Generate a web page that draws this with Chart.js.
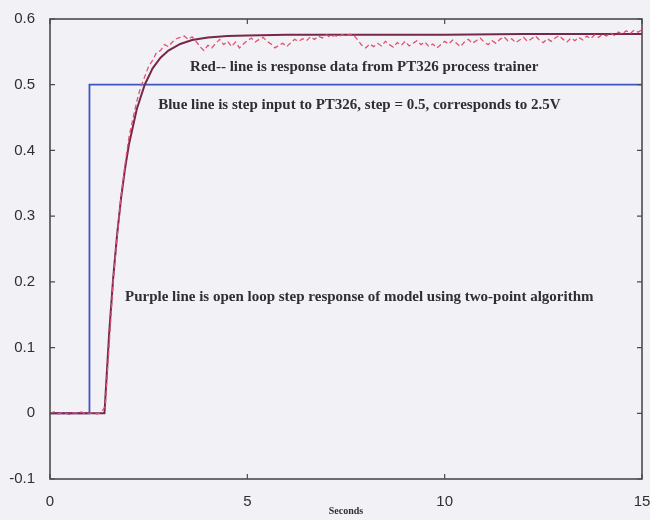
<!DOCTYPE html>
<html>
<head>
<meta charset="utf-8">
<script src="https://cdn.jsdelivr.net/npm/chart.js@4.4.0/dist/chart.umd.min.js"></script>
<style>
  html, body { margin: 0; padding: 0; background: #f2f2f6; }
  #wrap { width: 650px; height: 520px; }
</style>
</head>
<body>
<div id="wrap"><canvas id="c" width="650" height="520"></canvas></div>
<script>
// Step input applied to the PT326 (switches from 0 to 0.5 at t = 1 s)
const stepTime  = [0, 1, 1, 15];
const stepValue = [0, 0, 0.5, 0.5];

// Open-loop step response of the identified model (two-point method)
const modelTime  = [0, 1.38, 1.5, 1.6, 1.7, 1.8, 1.9, 2.0, 2.2, 2.4, 2.6, 2.8, 3.0, 3.3, 3.6, 4.0, 4.5, 5.0, 6.0, 8.0, 10.0, 12.0, 15.0];
const modelValue = [0, 0, 0.123, 0.205, 0.272, 0.327, 0.372, 0.409, 0.463, 0.500, 0.525, 0.541, 0.552, 0.562, 0.568, 0.572, 0.574, 0.575, 0.576, 0.576, 0.576, 0.577, 0.577];

// Measured PT326 output, sampled every 0.1 s from 0 to 15 s
const samplePeriod = 0.1;
const measuredValue = [
  0.000, 0.002, -0.001, 0.001, 0.000, -0.002, 0.001, 0.000, 0.002, -0.001,
  0.000, 0.001, -0.001, 0.002, 0.010, 0.105, 0.200, 0.268, 0.330, 0.378,
  0.420, 0.448, 0.475, 0.497, 0.512, 0.528, 0.537, 0.549, 0.552, 0.561,
  0.558, 0.565, 0.570, 0.572, 0.574, 0.569, 0.573, 0.566, 0.558, 0.552,
  0.560, 0.556, 0.563, 0.569, 0.561, 0.566, 0.558, 0.565, 0.556, 0.562,
  0.567, 0.571, 0.565, 0.569, 0.572, 0.566, 0.562, 0.556, 0.560, 0.563,
  0.558, 0.564, 0.569, 0.566, 0.570, 0.567, 0.573, 0.569, 0.574, 0.571,
  0.576, 0.572, 0.575, 0.573, 0.576, 0.574, 0.577, 0.575, 0.568, 0.560,
  0.556, 0.562, 0.558, 0.563, 0.559, 0.566, 0.561, 0.557, 0.564, 0.560,
  0.566, 0.559, 0.563, 0.567, 0.561, 0.565, 0.558, 0.562, 0.556, 0.561,
  0.566, 0.562, 0.568, 0.563, 0.558, 0.565, 0.569, 0.563, 0.567, 0.571,
  0.565, 0.561, 0.567, 0.563, 0.569, 0.573, 0.567, 0.570, 0.564, 0.568,
  0.572, 0.566, 0.570, 0.574, 0.568, 0.564, 0.570, 0.566, 0.571, 0.575,
  0.569, 0.565, 0.571, 0.567, 0.572, 0.568, 0.574, 0.570, 0.576, 0.572,
  0.577, 0.574, 0.579, 0.575, 0.580, 0.577, 0.582, 0.578, 0.583, 0.580,
  0.584
];

// Axis ticks
const xTicks = [0, 5, 10, 15];
const yTicks = [-0.1, 0, 0.1, 0.2, 0.3, 0.4, 0.5, 0.6];
const yTickLabels = ['-0.1', '0', '0.1', '0.2', '0.3', '0.4', '0.5', '0.6'];

// Text notes placed in data coordinates (left edge, vertical centre)
const noteText = [
  'Red-- line is response data from PT326 process trainer',
  'Blue line is step input to PT326, step = 0.5, corresponds to 2.5V',
  'Purple line is open loop step response of model using two-point algorithm'
];
const noteX = [3.55, 2.74, 1.9];
const noteY = [0.527, 0.469, 0.177];

const toPoints = (xs, ys) => ys.map((y, i) => ({ x: xs[i], y }));
const measuredPoints = measuredValue.map((y, i) => ({ x: +(i * samplePeriod).toFixed(1), y }));

const AXIS_COLOR = '#4a4a50';
const TEXT_COLOR = '#2e2e34';

// Box around the axes with short inward tick marks on all four sides
const framePlugin = {
  id: 'frame',
  afterDraw(chart) {
    const { ctx, chartArea: a, scales: { x, y } } = chart;
    const len = 5;
    ctx.save();
    ctx.strokeStyle = AXIS_COLOR;
    ctx.lineWidth = 1.6;
    ctx.strokeRect(a.left, a.top, a.right - a.left, a.bottom - a.top);
    ctx.lineWidth = 1.2;
    ctx.beginPath();
    xTicks.forEach(v => {
      const px = x.getPixelForValue(v);
      ctx.moveTo(px, a.bottom); ctx.lineTo(px, a.bottom - len);
      ctx.moveTo(px, a.top); ctx.lineTo(px, a.top + len);
    });
    yTicks.forEach(v => {
      const py = y.getPixelForValue(v);
      ctx.moveTo(a.left, py); ctx.lineTo(a.left + len, py);
      ctx.moveTo(a.right, py); ctx.lineTo(a.right - len, py);
    });
    ctx.stroke();
    ctx.restore();
  }
};

// Explanatory notes inside the plot
const notesPlugin = {
  id: 'notes',
  afterDatasetsDraw(chart) {
    const { ctx, scales: { x, y } } = chart;
    ctx.save();
    ctx.fillStyle = TEXT_COLOR;
    ctx.font = 'bold 15px "Liberation Serif", "DejaVu Serif", serif';
    ctx.textAlign = 'left';
    ctx.textBaseline = 'middle';
    noteText.forEach((t, i) => {
      ctx.fillText(t, x.getPixelForValue(noteX[i]), y.getPixelForValue(noteY[i]));
    });
    ctx.restore();
  }
};

new Chart(document.getElementById('c'), {
  type: 'line',
  data: {
    datasets: [
      {
        label: 'Measured',
        data: measuredPoints,
        borderColor: '#e2506f',
        borderWidth: 1.3,
        borderDash: [5, 3],
        pointRadius: 0,
        tension: 0,
        order: 0
      },
      {
        label: 'Model',
        data: toPoints(modelTime, modelValue),
        borderColor: '#76284a',
        borderWidth: 2,
        pointRadius: 0,
        tension: 0,
        order: 1
      },
      {
        label: 'Step input',
        data: toPoints(stepTime, stepValue),
        borderColor: '#3d56c2',
        borderWidth: 1.8,
        pointRadius: 0,
        tension: 0,
        order: 2
      }
    ]
  },
  options: {
    responsive: false,
    animation: false,
    devicePixelRatio: 1,
    layout: { padding: { left: 0, top: 19, right: 8, bottom: 0 } },
    plugins: {
      legend: { display: false },
      tooltip: { enabled: false }
    },
    scales: {
      x: {
        type: 'linear',
        min: 0,
        max: 15,
        afterBuildTicks: s => { s.ticks = xTicks.map(v => ({ value: v })); },
        afterFit: s => { s.height = 41; s.paddingLeft = 0; s.paddingRight = 0; },
        grid: { display: false },
        border: { display: false },
        ticks: {
          color: TEXT_COLOR,
          padding: 6,
          maxRotation: 0,
          font: { family: '"Liberation Sans", Arial, sans-serif', size: 15 }
        },
        title: {
          display: true,
          text: 'Seconds',
          color: TEXT_COLOR,
          padding: { top: 0, bottom: 3 },
          font: { family: '"Liberation Serif", serif', size: 10, weight: 'bold' }
        }
      },
      y: {
        type: 'linear',
        min: -0.1,
        max: 0.6,
        afterBuildTicks: s => { s.ticks = yTicks.map(v => ({ value: v })); },
        afterFit: s => { s.width = 50; s.paddingTop = 0; s.paddingBottom = 0; },
        grid: { display: false },
        border: { display: false },
        ticks: {
          color: TEXT_COLOR,
          padding: 7,
          font: { family: '"Liberation Sans", Arial, sans-serif', size: 15 },
          callback: (v, i) => yTickLabels[i]
        }
      }
    }
  },
  plugins: [framePlugin, notesPlugin]
});
</script>
</body>
</html>
